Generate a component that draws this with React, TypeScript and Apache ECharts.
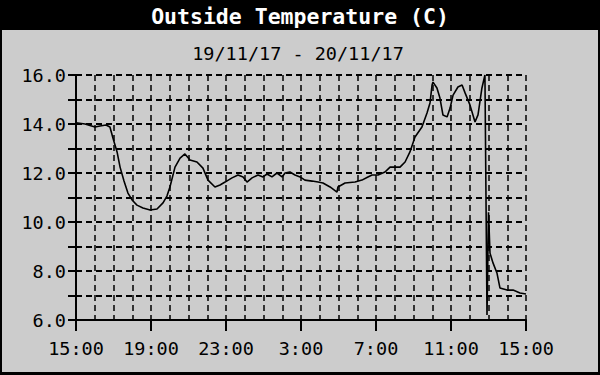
import { useEffect, useRef } from 'react';
import * as echarts from 'echarts';

const titleText = 'Outside Temperature (C)';
const subtitleText = '19/11/17 - 20/11/17';
const xTickLabels = ['15:00', '19:00', '23:00', '3:00', '7:00', '11:00', '15:00'];

// hours after 15:00 on 19/11/17
const hours = [
  0, 0.48, 1.01, 1.28, 1.6, 1.81, 1.97, 2.19, 2.35, 2.56, 2.77, 2.99, 3.25, 3.57, 3.95,
  4.32, 4.64, 4.85, 5.01, 5.28, 5.55, 5.81, 6.08, 6.45, 6.77, 7.04, 7.41, 7.68, 7.95,
  8.32, 8.64, 8.91, 9.12, 9.39, 9.71, 9.97, 10.19, 10.45, 10.72, 10.99, 11.15, 11.41,
  11.68, 11.95, 12.21, 12.59, 12.91, 13.17, 13.55, 13.92, 13.97, 14.35, 14.88, 15.25,
  15.57, 15.79, 16.11, 16.48, 16.75, 17.28, 17.55, 17.81, 18.08, 18.45, 18.72, 18.88,
  18.99, 19.04, 19.25, 19.41, 19.57, 19.79, 19.95, 20.11, 20.37, 20.59, 20.75, 21.01,
  21.28, 21.44, 21.65, 21.81, 21.92, 22.0, 22.08, 22.24, 22.45, 22.61, 22.99, 23.31,
  23.68, 24.0,
];
const temps = [
  14.05, 14.0, 13.88, 13.92, 13.96, 13.88, 13.43, 12.86, 12.24, 11.67, 11.18, 10.9, 10.69,
  10.57, 10.49, 10.53, 10.78, 11.06, 11.43, 12.24, 12.61, 12.78, 12.53, 12.45, 12.2, 11.71,
  11.43, 11.51, 11.63, 11.8, 11.92, 11.84, 11.63, 11.8, 11.92, 11.84, 11.96, 11.84, 12.0,
  11.84, 12.0, 12.04, 11.92, 11.84, 11.71, 11.67, 11.63, 11.59, 11.43, 11.22, 11.43, 11.59,
  11.63, 11.71, 11.84, 11.92, 11.92, 12.04, 12.24, 12.24, 12.45, 12.86, 13.47, 13.88, 14.45,
  14.86, 15.59, 15.71, 15.47, 15.06, 14.37, 14.29, 14.65, 15.18, 15.51, 15.59, 15.27, 14.78,
  14.08, 14.37, 15.47, 16.0, 6.2, 10.4, 8.73, 8.33, 7.92, 7.31, 7.22, 7.22, 7.1, 7.06,
];

export default function App() {
  const ref = useRef<HTMLDivElement>(null);
  useEffect(() => {
    const chart = echarts.init(ref.current!, null, { renderer: 'svg' });
    const font = '"DejaVu Sans Mono", monospace';
    const dash = { color: '#000', width: 1.5, type: [6, 4] as number[] };
    chart.setOption({
      animation: false,
      backgroundColor: '#cccccc',
      grid: { left: 76, right: 74, top: 75, bottom: 55 },
      graphic: [
        { type: 'rect', shape: { x: 0, y: 0, width: 600, height: 30 }, style: { fill: '#000' } },
        { type: 'rect', shape: { x: 0, y: 0, width: 2, height: 375 }, style: { fill: '#000' } },
        { type: 'rect', shape: { x: 598, y: 0, width: 2, height: 375 }, style: { fill: '#000' } },
        { type: 'rect', shape: { x: 0, y: 372, width: 600, height: 3 }, style: { fill: '#000' } },
        {
          type: 'text', x: 300, y: 16,
          style: { text: titleText, fill: '#fff', fontSize: 21.5, fontWeight: 'bold', fontFamily: font, align: 'center', verticalAlign: 'middle' },
        },
        {
          type: 'text', x: 298, y: 53,
          style: { text: subtitleText, fill: '#000', fontSize: 18.5, fontFamily: font, align: 'center', verticalAlign: 'middle' },
        },
      ],
      xAxis: {
        type: 'value', min: 0, max: 24, interval: 4,
        axisLine: { show: true, onZero: false, lineStyle: { color: '#000', width: 2 } },
        axisTick: { show: true, length: 11, lineStyle: { color: '#000', width: 2 } },
        axisLabel: {
          color: '#000', fontSize: 18.5, fontFamily: font, margin: 19,
          formatter: (v: number) => xTickLabels[Math.round(v / 4)] ?? '',
        },
        splitLine: { show: true, lineStyle: dash },
        minorTick: { show: false, splitNumber: 4 },
        minorSplitLine: { show: true, lineStyle: dash },
      },
      yAxis: {
        type: 'value', min: 6, max: 16, interval: 2,
        axisLine: { show: true, lineStyle: { color: '#000', width: 2 } },
        axisTick: { show: true, length: 8, lineStyle: { color: '#000', width: 2 } },
        minorTick: { show: true, splitNumber: 2, length: 8, lineStyle: { color: '#000', width: 2 } },
        axisLabel: {
          color: '#000', fontSize: 18.5, fontFamily: font, margin: 10,
          formatter: (v: number) => v.toFixed(1),
        },
        splitLine: { show: true, lineStyle: { ...dash, width: 2 } },
        minorSplitLine: { show: true, lineStyle: { ...dash, width: 2 } },
      },
      series: [
        {
          type: 'line',
          data: hours.map((h, i) => [h, temps[i]]),
          showSymbol: false,
          lineStyle: { color: '#000', width: 1.6 },
          z: 5,
        },
      ],
    });
    return () => chart.dispose();
  }, []);
  return <div ref={ref} style={{ position: 'fixed', left: 0, top: 0, width: 600, height: 375 }} />;
}
